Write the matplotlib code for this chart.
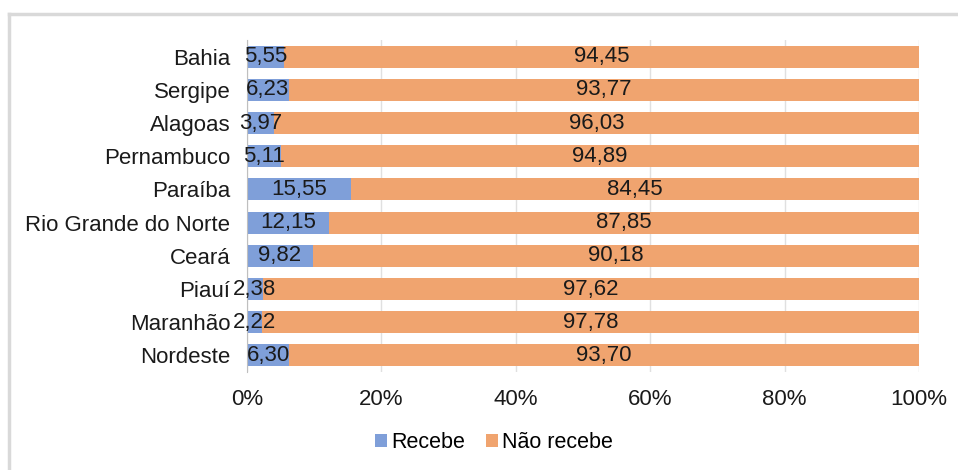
#!/usr/bin/env python3

import matplotlib
matplotlib.use('Agg')
import matplotlib.pyplot as plt
import matplotlib.ticker as ticker
from matplotlib.lines import Line2D

estados = ['Bahia', 'Sergipe', 'Alagoas', 'Pernambuco', 'Paraíba',
           'Rio Grande do Norte', 'Ceará', 'Piauí', 'Maranhão', 'Nordeste']
recebe = [5.55, 6.23, 3.97, 5.11, 15.55, 12.15, 9.82, 2.38, 2.22, 6.30]
nao_recebe = [94.45, 93.77, 96.03, 94.89, 84.45, 87.85, 90.18, 97.62, 97.78, 93.70]
xticks = [0, 20, 40, 60, 80, 100]

plt.rcParams['font.family'] = ['Liberation Sans', 'DejaVu Sans']
azul = '#7f9fd9'
laranja = '#f0a46f'
fs = 16

fig = plt.figure(figsize=(9.58, 4.70), dpi=100)
ax = fig.add_axes([247/958, 1 - 372/470, (919-247)/958, 332/470])

y = list(range(len(estados)))[::-1]
h = 0.66
ax.barh(y, recebe, height=h, color=azul, label='Recebe', zorder=2)
ax.barh(y, nao_recebe, left=recebe, height=h, color=laranja,
        label='Não recebe', zorder=2)

fmt = lambda v: '{0:.2f}'.format(v).replace('.', ',')
for yi, r, n in zip(y, recebe, nao_recebe):
    ax.text(r/2, yi, fmt(r), ha='center', va='center', fontsize=fs,
            color='#1a1a1a', zorder=5)
    ax.text(r + n/2, yi, fmt(n), ha='center', va='center', fontsize=fs,
            color='#1a1a1a', zorder=5)

ax.set_xlim(0, 100)
ax.set_ylim(-0.5, len(estados) - 0.5)
ax.set_yticks(y)
ax.set_yticklabels(estados, fontsize=fs, color='#1a1a1a')
ax.set_xticks(xticks)
ax.xaxis.set_major_formatter(ticker.FuncFormatter(lambda x, pos: '{0:g}%'.format(x)))
ax.tick_params(axis='x', labelsize=fs, colors='#1a1a1a', length=0, pad=12)
ax.tick_params(axis='y', length=0, pad=12)
ax.grid(axis='x', color='#e0e0e0', linewidth=1, zorder=0)
for s in ['top', 'right', 'bottom']:
    ax.spines[s].set_visible(False)
ax.spines['left'].set_color('#bfbfbf')
ax.spines['left'].set_zorder(3)

ax.legend(loc='center', bbox_to_anchor=(494/958, 1 - 443/470), bbox_transform=fig.transFigure,
          ncol=2, frameon=False, fontsize=15.5, handlelength=0.55, handleheight=0.55,
          handletextpad=0.2, columnspacing=1.0)

fig.add_artist(Line2D([8.5/958, 8.5/958], [0, 1 - 14/470], color='#d9d9d9', linewidth=2.5,
                      transform=fig.transFigure))
fig.add_artist(Line2D([8.5/958, 1], [1 - 14/470, 1 - 14/470], color='#d9d9d9', linewidth=2.5,
                      transform=fig.transFigure))

fig.savefig('out.png', dpi=100)
